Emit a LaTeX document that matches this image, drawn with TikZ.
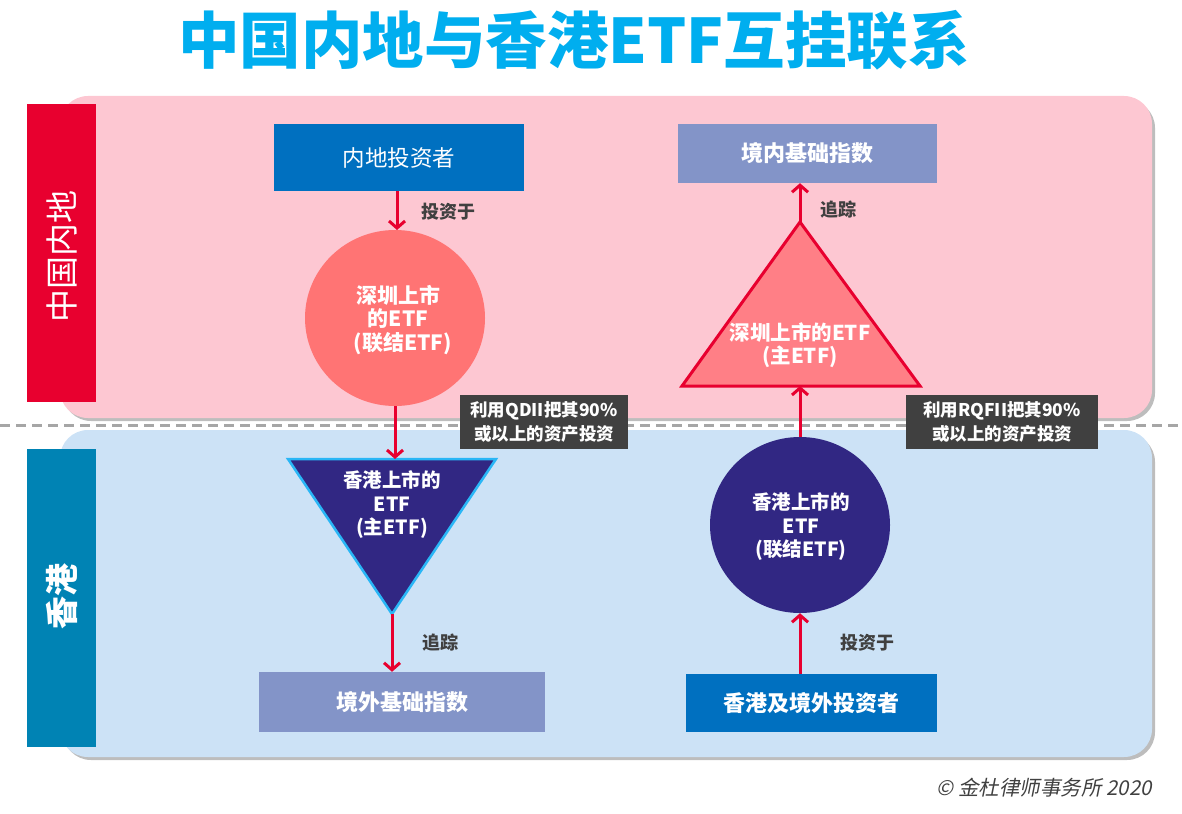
\documentclass[tikz,border=0pt]{standalone}
\usepackage{fontspec}
\setmainfont{Noto Sans CJK SC}
\newfontfamily\cjkit[FakeSlant=0.2]{Noto Sans CJK SC}
\usetikzlibrary{arrows.meta,shapes.geometric}
\definecolor{titlecyan}{HTML}{00AEEF}
\definecolor{pinkbg}{HTML}{FDC7D2}
\definecolor{bluebg}{HTML}{CCE2F6}
\definecolor{redbar}{HTML}{E8002F}
\definecolor{bluebar}{HTML}{0083B4}
\definecolor{investor}{HTML}{0070C0}
\definecolor{indexbox}{HTML}{8394C8}
\definecolor{salmon}{HTML}{FF7474}
\definecolor{trired}{HTML}{FF7F86}
\definecolor{navy}{HTML}{312783}
\definecolor{triborder}{HTML}{29B6F6}
\definecolor{darkbox}{HTML}{404040}
\definecolor{arrowred}{HTML}{E8002F}
\definecolor{labelgray}{HTML}{404040}
\definecolor{shadowgray}{HTML}{BDBDBD}
\definecolor{dashgray}{HTML}{A6A6A6}
\tikzset{
  panel/.style={rounded corners=28pt},
  sidebar/.style={minimum width=69pt, text=white, inner sep=0pt,
    font=\fontsize{33}{36}\selectfont},
  boxnode/.style={minimum width=#1, inner sep=0pt, text=white,
    font=\bfseries\fontsize{22}{26}\selectfont},
  etftext/.style={text=white, align=center, inner sep=0pt,
    font=\bfseries\fontsize{19.5}{23.5}\selectfont},
  circ/.style={ellipse, minimum width=180pt, minimum height=176pt, inner sep=0pt},
  flow/.style={draw=arrowred, line width=3pt,
    -{Straight Barb[length=7pt,width=16pt,line width=3pt]}},
  flowlabel/.style={text=labelgray, inner sep=0pt,
    font=\bfseries\fontsize{18}{20}\selectfont},
  notebox/.style={fill=darkbox, text=white, align=center, inner sep=0pt,
    font=\bfseries\fontsize{17.5}{24}\selectfont},
}
\begin{document}
\begin{tikzpicture}[x=1pt,y=-1pt]
\useasboundingbox (0,0) rectangle (1182,813);
% title
\node[text=titlecyan, inner sep=0pt, font=\bfseries\fontsize{61.5}{64}\selectfont]
  (title) at (574,40) {中国内地与香港ETF互挂联系};
% panels with shadows
\fill[shadowgray, panel] (63,100) rectangle (1155,421);
\fill[pinkbg, panel] (60,96) rectangle (1152,418);
\fill[shadowgray, panel] (63,434) rectangle (1155,760);
\fill[bluebg, panel] (60,430) rectangle (1152,757);
% dashed separator
\draw[dashgray, line width=3pt, dash pattern=on 10pt off 6pt] (0,425) -- (1182,425);
% side bars
\node[sidebar, fill=redbar, minimum height=298pt] (barCN) at (61.5,253) {};
\node[sidebar, rotate=90] (barCNt) at (61.5,256) {中国内地};
\node[sidebar, fill=bluebar, minimum height=298pt] (barHK) at (61.5,598) {};
\node[sidebar, rotate=90, font=\bfseries\fontsize{33}{36}\selectfont] (barHKt) at (61.5,596) {香港};
% left column
\node[boxnode=250pt, minimum height=67pt, fill=investor, font=\fontsize{22.5}{26}\selectfont] (cnInv) at (399,157.5) {内地投资者};
\node[circ, fill=salmon] (szFeeder) at (395,318) {};
\node[etftext, font=\bfseries\fontsize{21}{23.5}\selectfont] (szFeederT) at (398,320) {深圳上市\\的ETF\\\ \ (联结ETF)};
\fill[navy] (288,459) -- (496,459) -- (392,614) -- cycle;
\draw[triborder, line width=2.5pt, line join=miter] (288,459) -- (496,459) -- (392,614) -- cycle;
\coordinate (ltTop) at (395,459);
\coordinate (ltApex) at (392,614);
\node[etftext] (hkMaster) at (392,505) {香港上市的\\ETF\\(主ETF)};
\node[boxnode=286pt, minimum height=60pt, fill=indexbox] (idxOut) at (402,702) {境外基础指数};
\draw[flow] (cnInv.south -| 397,0) -- (397,230);
\node[flowlabel] (lblInv1) at (448,212) {投资于};
\draw[flow] (szFeeder.south) -- (ltTop);
\draw[flow] (ltApex) -- (ltApex |- idxOut.north);
\node[flowlabel] (lblTrack1) at (440,643) {追踪};
\node[notebox, minimum width=168pt, minimum height=54pt] (noteQ) at (544,422) {利用QDII把其90\%\\或以上的资产投资};
% right column
\node[boxnode=259pt, minimum height=59pt, fill=indexbox] (idxIn) at (807.5,153.5) {境内基础指数};
\coordinate (rtApex) at (800,222);
\coordinate (rtBase) at (800,386);
\fill[trired] (800,222) -- (920,386) -- (682,386) -- cycle;
\draw[redbar, line width=3pt, line join=miter] (800,222) -- (920,386) -- (682,386) -- cycle;
\node[etftext, font=\bfseries\fontsize{20.5}{23.5}\selectfont] (szMaster) at (800,345) {深圳上市的ETF\\(主ETF)};
\node[circ, fill=navy] (hkFeeder) at (800,525) {};
\node[etftext] (hkFeederT) at (801,527) {香港上市的\\ETF\\(联结ETF)};
\node[boxnode=251pt, minimum height=58pt, fill=investor] (hkInv) at (811.5,703) {香港及境外投资者};
\draw[flow] (rtApex) -- (rtApex |- idxIn.south);
\node[flowlabel] (lblTrack2) at (838,210) {追踪};
\draw[flow] (hkFeeder.north) -- (rtBase);
\draw[flow] (hkFeeder.south |- hkInv.north) -- (hkFeeder.south);
\node[flowlabel] (lblInv2) at (867,643) {投资于};
\node[notebox, minimum width=192pt, minimum height=54pt] (noteR) at (1002,422) {利用RQFII把其90\%\\或以上的资产投资};
% copyright
\node[anchor=east, text=labelgray, inner sep=0pt, font=\cjkit\fontsize{20.5}{22}\selectfont] (copy) at (1152,788) {© 金杜律师事务所 2020};
\end{tikzpicture}
\end{document}
